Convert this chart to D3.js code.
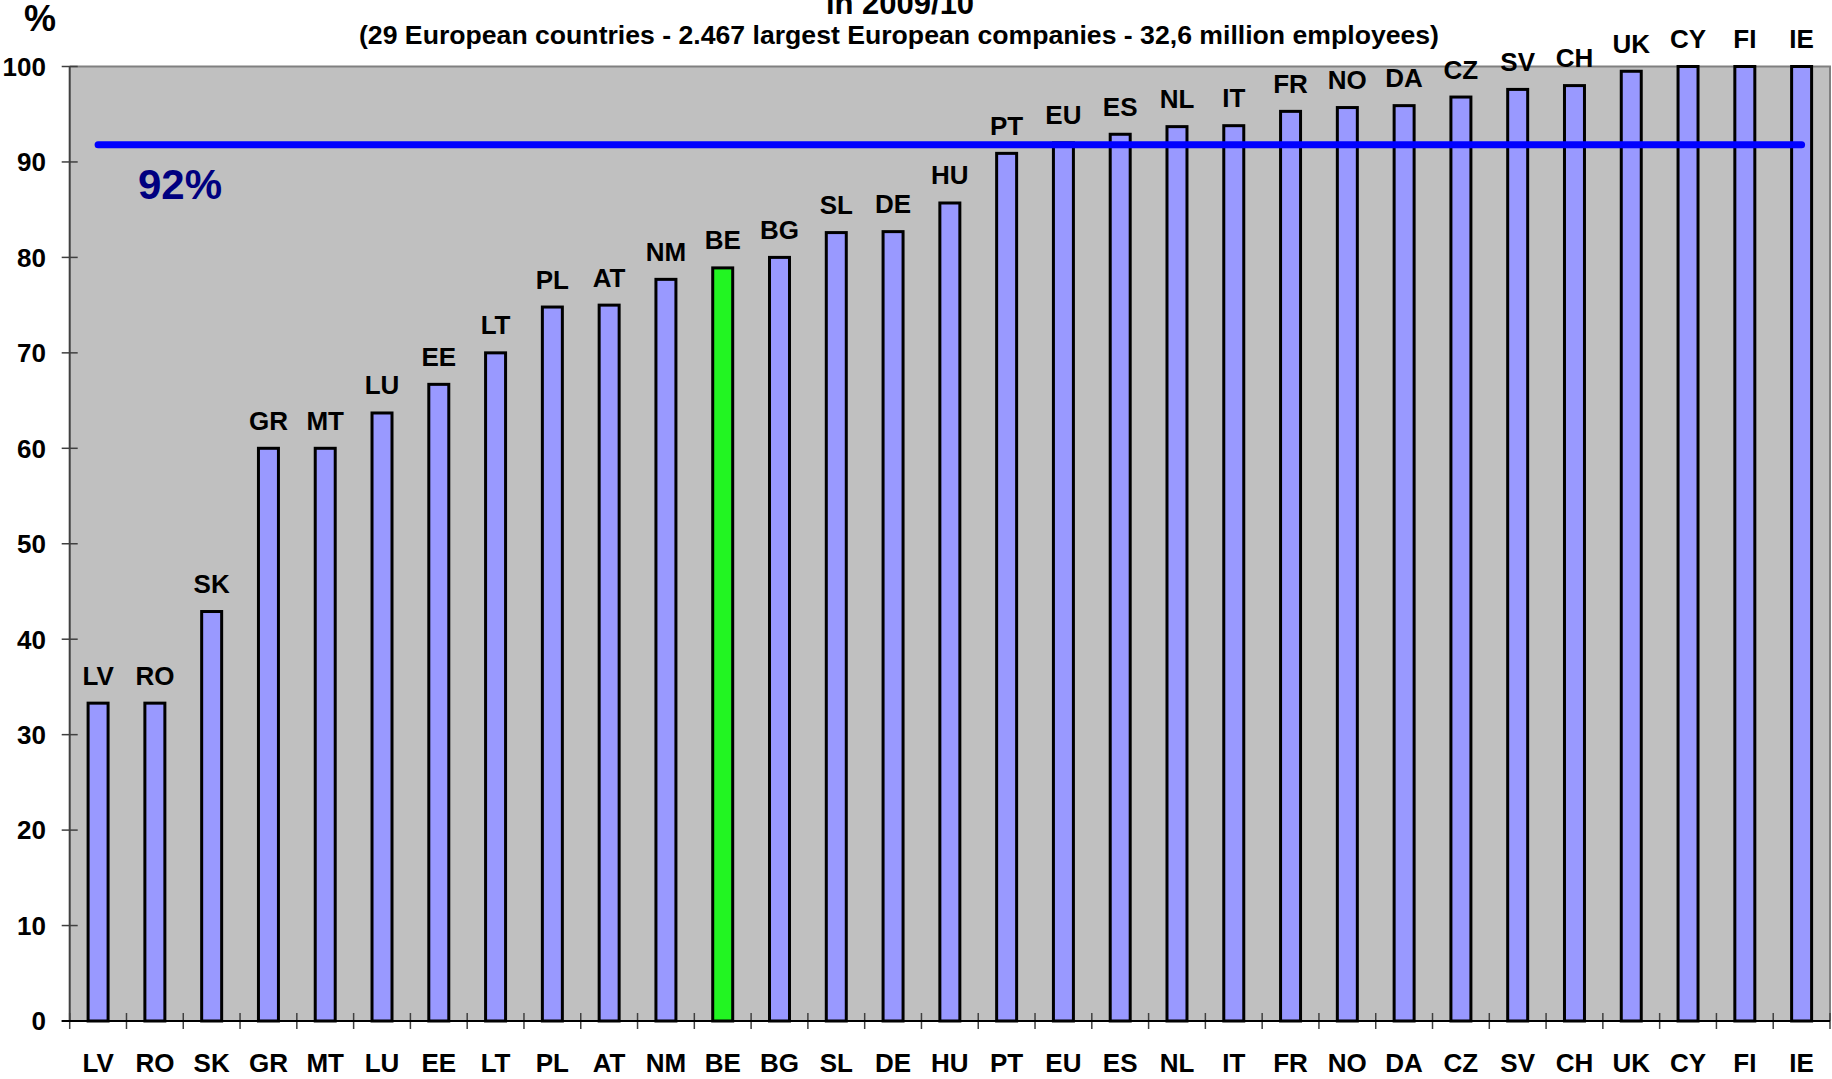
<!DOCTYPE html>
<html>
<head>
<meta charset="utf-8">
<script src="https://cdn.jsdelivr.net/npm/d3@7"></script>
<style>
  body { margin: 0; background: #fff; }
  svg { display: block; font-family: "Liberation Sans", Arial, sans-serif; font-weight: bold; }
</style>
</head>
<body>
<div id="chart"></div>
<script>
// data
var countries = ["LV", "RO", "SK", "GR", "MT", "LU", "EE", "LT", "PL", "AT", "NM", "BE", "BG", "SL", "DE", "HU",
                 "PT", "EU", "ES", "NL", "IT", "FR", "NO", "DA", "CZ", "SV", "CH", "UK", "CY", "FI", "IE"];
var values = [33.3, 33.3, 42.9, 60.0, 60.0, 63.7, 66.7, 70.0, 74.8, 75.0, 77.7, 78.9, 80.0, 82.6, 82.7, 85.7,
              90.9, 92.0, 92.9, 93.7, 93.8, 95.3, 95.7, 95.9, 96.8, 97.6, 98.0, 99.5, 100, 100, 100];
var highlight = ["BE"];
var yTicks = [0, 10, 20, 30, 40, 50, 60, 70, 80, 90, 100];
var average = [91.8];
var averageLabel = ["92%"];
var titleLines = ["in 2009/10", "(29 European countries - 2.467 largest European companies - 32,6 million employees)"];

var width = 1832, height = 1079;
var plotLeft = 69.7, plotRight = 1830, plotTop = 66.5, plotBottom = 1021;

var svg = d3.select("#chart").append("svg")
    .attr("width", width)
    .attr("height", height);

var x = d3.scaleBand()
    .domain(countries)
    .range([plotLeft, plotRight])
    .paddingInner(0.648)
    .paddingOuter(0.324);

var y = d3.scaleLinear()
    .domain([0, 100])
    .range([plotBottom, plotTop]);

// plot background
svg.append("rect")
    .attr("x", plotLeft).attr("y", plotTop)
    .attr("width", plotRight - plotLeft).attr("height", plotBottom - plotTop)
    .style("fill", "#c0c0c0");

// top and right border
svg.append("path")
    .attr("d", "M" + plotLeft + "," + plotTop + "H" + plotRight + "V" + plotBottom)
    .style("fill", "none")
    .style("stroke", "#808080")
    .style("stroke-width", 2);

// bars
svg.selectAll("rect.bar")
    .data(countries)
    .enter().append("rect")
    .attr("class", "bar")
    .attr("x", function(d) { return x(d); })
    .attr("y", function(d, i) { return y(values[i]); })
    .attr("width", x.bandwidth())
    .attr("height", function(d, i) { return y(0) - y(values[i]); })
    .style("fill", function(d) { return highlight.indexOf(d) >= 0 ? "#22f522" : "#9999ff"; })
    .style("stroke", "#000")
    .style("stroke-width", 3);

// labels over bars
svg.selectAll("text.barlabel")
    .data(countries)
    .enter().append("text")
    .attr("class", "barlabel")
    .attr("x", function(d) { return x(d) + x.bandwidth() / 2; })
    .attr("y", function(d, i) { return y(values[i]) - 18.5; })
    .attr("text-anchor", "middle")
    .style("font-size", "26px")
    .style("fill", "#000")
    .text(function(d) { return d; });

// average line
svg.append("line")
    .attr("x1", x(countries[0]) + x.bandwidth() / 2)
    .attr("x2", x(countries[countries.length - 1]) + x.bandwidth() / 2)
    .attr("y1", y(average[0]))
    .attr("y2", y(average[0]))
    .style("stroke", "#0000ff")
    .style("stroke-width", 7)
    .style("stroke-linecap", "round");

svg.append("text")
    .attr("x", 138)
    .attr("y", 199)
    .style("font-size", "42px")
    .style("fill", "#000080")
    .text(averageLabel[0]);

// y axis
var yAxis = svg.append("g");
yAxis.append("line")
    .attr("x1", plotLeft).attr("x2", plotLeft)
    .attr("y1", plotTop).attr("y2", plotBottom)
    .style("stroke", "#404040")
    .style("stroke-width", 2);
yAxis.selectAll("line.tick")
    .data(yTicks)
    .enter().append("line")
    .attr("class", "tick")
    .attr("x1", plotLeft - 8).attr("x2", plotLeft + 8)
    .attr("y1", function(d) { return y(d); })
    .attr("y2", function(d) { return y(d); })
    .style("stroke", "#404040")
    .style("stroke-width", 1.5);
yAxis.selectAll("text")
    .data(yTicks)
    .enter().append("text")
    .attr("x", 46)
    .attr("y", function(d) { return y(d); })
    .attr("dy", "0.36em")
    .attr("text-anchor", "end")
    .style("font-size", "26px")
    .text(function(d) { return d; });

svg.append("text")
    .attr("x", 40)
    .attr("y", 31)
    .attr("text-anchor", "middle")
    .style("font-size", "36px")
    .text("%");

// x axis
var xAxis = svg.append("g");
xAxis.selectAll("line.tick")
    .data(d3.range(countries.length + 1))
    .enter().append("line")
    .attr("class", "tick")
    .attr("x1", function(i) { return plotLeft + i * x.step(); })
    .attr("x2", function(i) { return plotLeft + i * x.step(); })
    .attr("y1", plotBottom - 8).attr("y2", plotBottom + 8)
    .style("stroke", "#404040")
    .style("stroke-width", 1.5);
xAxis.append("line")
    .attr("x1", plotLeft - 8).attr("x2", plotRight)
    .attr("y1", plotBottom).attr("y2", plotBottom)
    .style("stroke", "#000")
    .style("stroke-width", 2);
xAxis.selectAll("text")
    .data(countries)
    .enter().append("text")
    .attr("x", function(d) { return x(d) + x.bandwidth() / 2; })
    .attr("y", 1072)
    .attr("text-anchor", "middle")
    .style("font-size", "26px")
    .text(function(d) { return d; });

// titles (first line is cut off by the top edge, as in the original)
svg.append("text")
    .attr("x", 900).attr("y", 14)
    .attr("text-anchor", "middle")
    .style("font-size", "31px")
    .text(titleLines[0]);
svg.append("text")
    .attr("x", 899).attr("y", 44)
    .attr("text-anchor", "middle")
    .style("font-size", "25px")
    .attr("textLength", 1080)
    .attr("lengthAdjust", "spacingAndGlyphs")
    .text(titleLines[1]);
</script>
</body>
</html>
